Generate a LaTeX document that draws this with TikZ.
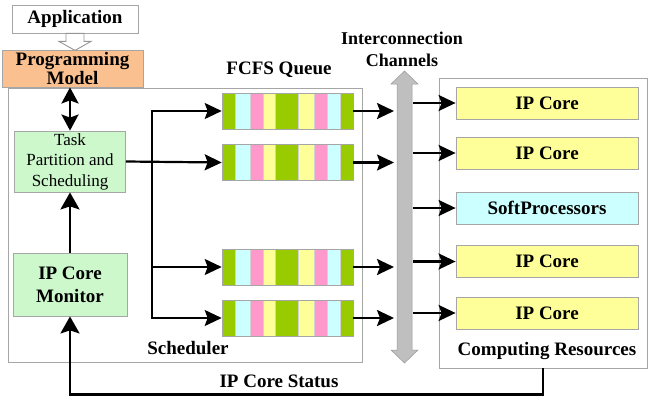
\documentclass[tikz,border=0pt]{standalone}
\usepackage{fontspec}
\setmainfont{Liberation Serif}
\usetikzlibrary{arrows.meta,calc}
\definecolor{qgreen}{HTML}{99CC00}
\definecolor{qcyan}{HTML}{CCFFFF}
\definecolor{qpink}{HTML}{FF99CC}
\definecolor{qyellow}{HTML}{FFFF99}
\definecolor{boxgreen}{HTML}{CCF8CC}
\definecolor{pmorange}{HTML}{FAC08F}
\definecolor{edgegray}{HTML}{A6A6A6}
\definecolor{busgray}{HTML}{BFBFBF}
\begin{document}
\begin{tikzpicture}[x=1pt,y=-1pt,
  bigfont/.style={font=\fontsize{19}{20}\selectfont\bfseries},
  frame/.style={draw=edgegray, line width=0.8pt, inner sep=0pt},
  lbl/.style={bigfont, inner sep=0pt},
  arr/.style={-{Stealth[length=17pt,width=16pt,inset=3pt]}, line width=2.2pt},
  varr/.style={-{Stealth[length=17pt,width=19pt,inset=3pt]}, line width=2.4pt},
  darr/.style={{Stealth[length=16pt,width=17pt,inset=3pt]}-{Stealth[length=16pt,width=17pt,inset=3pt]}, line width=2.8pt},
  res/.style={frame, minimum width=182pt, minimum height=32pt, bigfont},
  qbox/.style={minimum width=131pt, minimum height=36pt, inner sep=0pt, draw=edgegray, line width=0.6pt,
    path picture={
      \foreach \a/\b/\c in {0/13.3/qgreen,13.3/27.7/qcyan,27.7/41/qpink,41/53.3/qyellow,53.3/75.7/qgreen,75.7/91.7/qyellow,91.7/105/qpink,105/117.7/qcyan,117.7/131/qgreen}
        \filldraw[fill=\c, draw=edgegray!50, line width=0.4pt] ([xshift=\a pt]path picture bounding box.south west) rectangle ([xshift=\b pt]path picture bounding box.north west);
    }}
]
\useasboundingbox (0,0) rectangle (649,399);

% frames
\node[frame, minimum width=354pt, minimum height=274pt] (sched) at (185,225) {};
\node[frame, minimum width=208pt, minimum height=290pt] (cr) at (543,223) {};

% application and programming model
\node[frame, minimum width=126pt, minimum height=28pt, bigfont] (app) at (75,19) {Application};
\node[frame, fill=pmorange, minimum width=141pt, minimum height=37pt, bigfont, align=center] (pm) at (72.5,68.5) {Programming\\Model};
\begin{scope}[shift={(app.south)}]
  \filldraw[fill=white, draw=edgegray!90!black, line width=0.9pt]
    (-9,0) -- (9,0) -- (9,8) -- (16,8) -- (0,17) -- (-16,8) -- (-9,8) -- cycle;
\end{scope}

% scheduler parts
\node[frame, fill=boxgreen, minimum width=111pt, minimum height=61pt, align=center,
      font=\fontsize{17}{20.5}\selectfont] (task) at (70,161.5) {Task\\Partition and\\Scheduling};
\node[frame, fill=boxgreen, minimum width=114pt, minimum height=63pt, align=center,
      font=\fontsize{19}{23}\selectfont\bfseries] (mon) at (70,284.5) {IP Core\\Monitor};

\draw[darr] (pm.south -| task.north) -- (task.north);
\draw[varr] (mon.north) -- (task.south);

% queues
\node[qbox] (q1) at (287.5,111) {};
\node[qbox] (q2) at (287.5,162.5) {};
\node[qbox] (q3) at (287.5,267) {};
\node[qbox] (q4) at (287.5,318) {};
\node[lbl] (fcfs) at (279,70) {FCFS Queue};

\coordinate (bx) at (152,0);
\draw[arr] (task.east) -- (q2.west);
\draw[arr, line join=miter] (q2.west -| bx) |- (q1.west);
\draw[arr, line join=miter] (q2.west -| bx) |- (q3.west);
\draw[arr, line join=miter] (q2.west -| bx) |- (q4.west);

\node[lbl] (sch) at (188,348) {Scheduler};

% interconnect
\filldraw[fill=busgray, draw=busgray!80!black, line width=0.5pt]
  (404.5,71) -- (418,84) -- (412,84) -- (412,350) -- (418,350) -- (404.5,363)
  -- (391,350) -- (397,350) -- (397,84) -- (391,84) -- cycle;
\node[lbl, align=center, font=\fontsize{18}{22}\selectfont\bfseries] (icl) at (402,49) {Interconnection\\Channels};
\coordinate (icL) at (394,0);
\coordinate (icR) at (413,0);

\draw[arr] (q1.east) -- (q1.east -| icL);
\draw[arr] (q2.east) -- (q2.east -| icL);
\draw[arr] (q3.east) -- (q3.east -| icL);
\draw[arr] (q4.east) -- (q4.east -| icL);

% computing resources
\node[res, fill=qyellow] (r1) at (547,103) {IP Core};
\node[res, fill=qyellow] (r2) at (547,153) {IP Core};
\node[res, fill=qcyan] (r3) at (547,208) {SoftProcessors};
\node[res, fill=qyellow] (r4) at (547,261.5) {IP Core};
\node[res, fill=qyellow] (r5) at (547,313) {IP Core};
\node[lbl] (crl) at (547,351) {Computing Resources};

\draw[arr] (r1.west -| icR) -- (r1.west);
\draw[arr] (r2.west -| icR) -- (r2.west);
\draw[arr] (r3.west -| icR) -- (r3.west);
\draw[arr] (r4.west -| icR) -- (r4.west);
\draw[arr] (r5.west -| icR) -- (r5.west);

% feedback
\coordinate (fb) at (cr.south);
\draw[varr, line join=miter] (fb) -- ++(0,26) -| (mon.south);
\node[lbl] (st) at (279,381) {IP Core Status};
\end{tikzpicture}
\end{document}
